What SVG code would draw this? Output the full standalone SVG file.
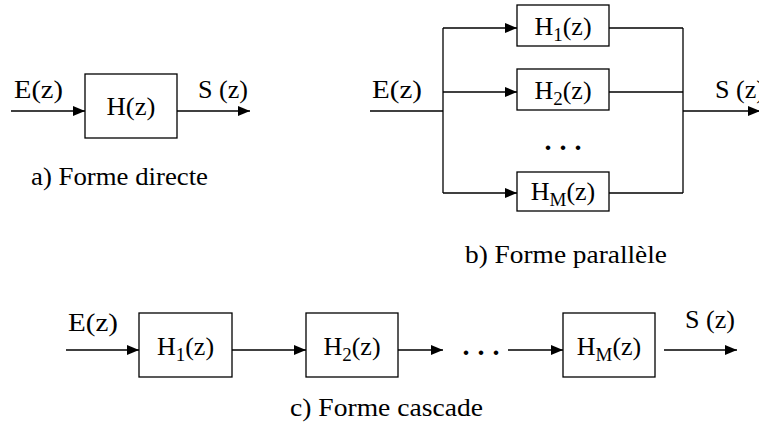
<svg xmlns="http://www.w3.org/2000/svg" width="759" height="436" viewBox="0 0 759 436">
<style>
text{font-family:'Liberation Serif',Tinos,'Times New Roman',serif;font-size:26px;fill:#000}
.sub{font-size:19px}
.dots{font-size:28px;font-weight:bold;letter-spacing:8px}
.box{fill:#fff;stroke:#000;stroke-width:1.3}
.ln{fill:none;stroke:#000;stroke-width:1.3}
</style>
<defs>
<marker id="ar" viewBox="0 0 12 10" refX="12" refY="5" markerWidth="12" markerHeight="10" markerUnits="userSpaceOnUse" orient="auto">
<path d="M0,0 L12,5 L0,10 Z" fill="#000"/>
</marker>
</defs>
<rect width="759" height="436" fill="#fff"/>
<g id="connectors">
<line class="ln" x1="11" y1="111" x2="85" y2="111" marker-end="url(#ar)"/>
<line class="ln" x1="177" y1="111" x2="250" y2="111" marker-end="url(#ar)"/>
<polyline class="ln" points="370,111 443,111"/>
<polyline class="ln" points="443,28 443,193"/>
<line class="ln" x1="443" y1="28" x2="517" y2="28" marker-end="url(#ar)"/>
<line class="ln" x1="443" y1="92" x2="517" y2="92" marker-end="url(#ar)"/>
<line class="ln" x1="443" y1="193" x2="517" y2="193" marker-end="url(#ar)"/>
<line class="ln" x1="609" y1="28" x2="683" y2="28"/>
<line class="ln" x1="609" y1="92" x2="683" y2="92"/>
<line class="ln" x1="609" y1="193" x2="683" y2="193"/>
<polyline class="ln" points="683,28 683,193"/>
<line class="ln" x1="683" y1="111" x2="760" y2="111" marker-end="url(#ar)"/>
<line class="ln" x1="66" y1="350" x2="139" y2="350" marker-end="url(#ar)"/>
<line class="ln" x1="232" y1="350" x2="306" y2="350" marker-end="url(#ar)"/>
<line class="ln" x1="398" y1="350" x2="443" y2="350" marker-end="url(#ar)"/>
<line class="ln" x1="508" y1="350" x2="563" y2="350" marker-end="url(#ar)"/>
<line class="ln" x1="664" y1="350" x2="737" y2="350" marker-end="url(#ar)"/>
</g>
<g id="a-H">
<rect class="box" x="85" y="74" width="92" height="64"/>
<text x="131" y="115" text-anchor="middle" textLength="49" lengthAdjust="spacingAndGlyphs">H(z)</text>
</g>
<g id="a-labels">
<text x="14" y="98" textLength="49" lengthAdjust="spacingAndGlyphs">E(z)</text>
<text x="198" y="98" textLength="50" lengthAdjust="spacingAndGlyphs">S (z)</text>
<text x="31" y="185" textLength="177" lengthAdjust="spacingAndGlyphs">a) Forme directe</text>
</g>
<g id="b-H1">
<rect class="box" x="517" y="5" width="92" height="41"/>
<text x="563" y="35" text-anchor="middle">H<tspan class="sub" dy="6">1</tspan><tspan dy="-6">(z)</tspan></text>
</g>
<g id="b-H2">
<rect class="box" x="517" y="69" width="92" height="41"/>
<text x="563" y="99" text-anchor="middle">H<tspan class="sub" dy="6">2</tspan><tspan dy="-6">(z)</tspan></text>
</g>
<g id="b-HM">
<rect class="box" x="517" y="172" width="92" height="39"/>
<text x="563" y="200" text-anchor="middle">H<tspan class="sub" dy="6">M</tspan><tspan dy="-6">(z)</tspan></text>
</g>
<g id="b-labels">
<text x="372" y="98" textLength="50" lengthAdjust="spacingAndGlyphs">E(z)</text>
<text x="715" y="98" textLength="50" lengthAdjust="spacingAndGlyphs">S (z)</text>
<text class="dots" x="567" y="150" text-anchor="middle">...</text>
<text x="465" y="263" textLength="202" lengthAdjust="spacingAndGlyphs">b) Forme parallèle</text>
</g>
<g id="c-H1">
<rect class="box" x="139" y="313" width="93" height="64"/>
<text x="185.5" y="355" text-anchor="middle">H<tspan class="sub" dy="6">1</tspan><tspan dy="-6">(z)</tspan></text>
</g>
<g id="c-H2">
<rect class="box" x="306" y="313" width="92" height="64"/>
<text x="352" y="355" text-anchor="middle">H<tspan class="sub" dy="6">2</tspan><tspan dy="-6">(z)</tspan></text>
</g>
<g id="c-HM">
<rect class="box" x="563" y="313" width="92" height="64"/>
<text x="609" y="355" text-anchor="middle">H<tspan class="sub" dy="6">M</tspan><tspan dy="-6">(z)</tspan></text>
</g>
<g id="c-labels">
<text x="68" y="331" textLength="50" lengthAdjust="spacingAndGlyphs">E(z)</text>
<text x="685" y="328" textLength="50" lengthAdjust="spacingAndGlyphs">S (z)</text>
<text class="dots" x="485" y="355" text-anchor="middle">...</text>
<text x="290" y="416" textLength="193" lengthAdjust="spacingAndGlyphs">c) Forme cascade</text>
</g>
</svg>
